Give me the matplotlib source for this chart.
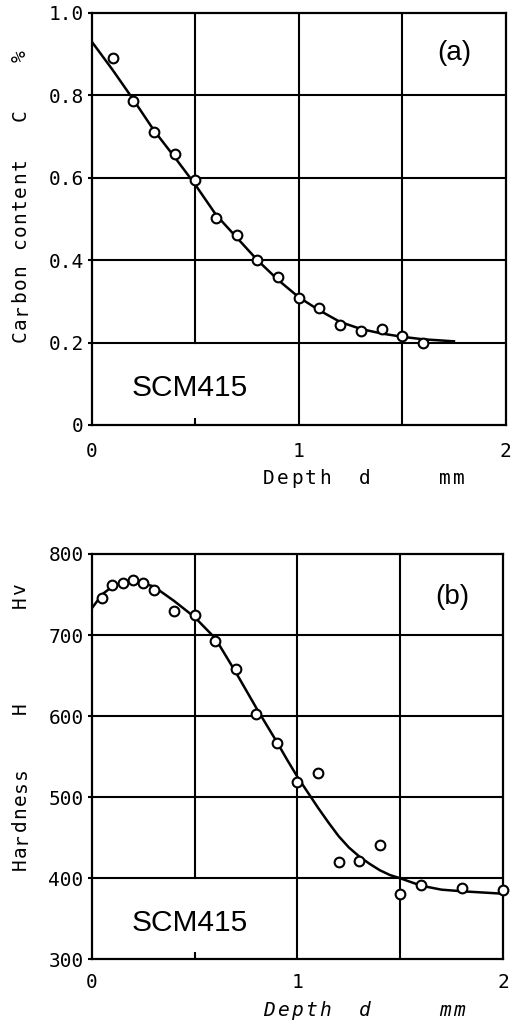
import matplotlib
matplotlib.use('Agg')
import matplotlib.pyplot as plt
from matplotlib import rcParams

rcParams['font.family'] = 'DejaVu Sans Mono'

# (a) carbon content vs depth
depth_c = [0.1, 0.2, 0.3, 0.4, 0.5, 0.6, 0.7, 0.8, 0.9, 1.0, 1.1, 1.2, 1.3, 1.4, 1.5, 1.6]
carbon = [0.89, 0.787, 0.711, 0.658, 0.595, 0.503, 0.461, 0.400, 0.359, 0.309, 0.285,
          0.242, 0.228, 0.233, 0.215, 0.198]
curve_c_x = [0.0, 0.1, 0.2, 0.3, 0.4, 0.5, 0.6, 0.7, 0.8, 0.9, 1.0, 1.1, 1.2, 1.3, 1.4,
             1.5, 1.6, 1.75]
curve_c_y = [0.93, 0.862, 0.79, 0.715, 0.65, 0.583, 0.51, 0.455, 0.40, 0.352, 0.31, 0.278,
             0.25, 0.233, 0.222, 0.214, 0.208, 0.203]

# (b) hardness vs depth
depth_h = [0.05, 0.1, 0.15, 0.2, 0.25, 0.3, 0.4, 0.5, 0.6, 0.7, 0.8, 0.9, 1.0, 1.1, 1.2,
           1.3, 1.4, 1.5, 1.6, 1.8, 2.0]
hardness = [746, 762, 764, 768, 764, 755, 730, 725, 692, 658, 603, 567, 519, 530, 420,
            421, 441, 381, 392, 388, 386]
curve_h_x = [0.0, 0.05, 0.1, 0.15, 0.2, 0.3, 0.4, 0.5, 0.6, 0.7, 0.8, 0.9, 0.95, 1.0,
             1.05, 1.1, 1.15, 1.2, 1.25, 1.3, 1.35, 1.4, 1.45, 1.5, 1.6, 1.7, 1.8, 2.0]
curve_h_y = [733, 750, 760, 765, 767, 760, 742, 722, 696, 654, 610, 568, 546, 525,
             506, 487, 469, 452, 438, 427, 418, 410, 404, 400, 391, 386, 384, 381]

fig = plt.figure(figsize=(5.16, 10.25), dpi=100)

ax1 = fig.add_axes([0.178, 0.5854, 0.802, 0.402])
ax2 = fig.add_axes([0.178, 0.064, 0.797, 0.3956])


def style_axes(ax, yticks, ylim, cut, xpad):
    # gridlines drawn by hand: the one at 0.5 stops above the label area
    for s in ax.spines.values():
        s.set_linewidth(1.6)
    ax.set_xlim(0, 2)
    ax.set_ylim(*ylim)
    ax.set_xticks([0, 1, 2])
    ax.set_xticks([0.5], minor=True)
    ax.set_yticks(yticks)
    for y in yticks[1:-1]:
        ax.axhline(y, color='black', linewidth=1.5, zorder=1)
    for x in [1.0, 1.5]:
        ax.axvline(x, color='black', linewidth=1.5, zorder=1)
    frac = (cut - ylim[0]) / (ylim[1] - ylim[0])
    ax.axvline(0.5, ymin=frac, ymax=1, color='black', linewidth=1.5, zorder=1)
    ax.tick_params(which='both', labelsize=14, width=1.5)
    ax.tick_params(axis='x', which='major', length=0, pad=xpad)
    ax.tick_params(axis='x', which='minor', direction='in', length=5)
    ax.tick_params(axis='y', direction='out', length=3, pad=3)


# top panel
ax1.plot(curve_c_x, curve_c_y, color='black', linewidth=1.8, zorder=2)
ax1.plot(depth_c, carbon, 'o', markersize=7, markerfacecolor='white',
         markeredgecolor='black', markeredgewidth=1.5, zorder=3)
style_axes(ax1, [0, 0.2, 0.4, 0.6, 0.8, 1.0], (0, 1.0), 0.2, 12)
ax1.set_yticklabels(['0', '0.2', '0.4', '0.6', '0.8', '1.0'])
ax1.text(0.877, 0.903, '(a)', transform=ax1.transAxes, fontsize=20,
         family='Liberation Sans', ha='center', va='center')
ax1.text(0.097, 0.09, 'SCM415', transform=ax1.transAxes, fontsize=21.5,
         family='Liberation Sans', ha='left', va='center')

# bottom panel
ax2.plot(curve_h_x, curve_h_y, color='black', linewidth=1.8, zorder=2)
ax2.plot(depth_h, hardness, 'o', markersize=7, markerfacecolor='white',
         markeredgecolor='black', markeredgewidth=1.5, clip_on=False, zorder=3)
style_axes(ax2, [300, 400, 500, 600, 700, 800], (300, 800), 400, 9.5)
ax2.text(0.876, 0.894, '(b)', transform=ax2.transAxes, fontsize=20,
         family='Liberation Sans', ha='center', va='center')
ax2.text(0.097, 0.09, 'SCM415', transform=ax2.transAxes, fontsize=21.5,
         family='Liberation Sans', ha='left', va='center')

# axis labels: wide letter spacing, placed in pixels from the top left
W, H = 516, 1025


def spaced(x, y, s, pitch, vertical=False, **kw):
    for i, ch in enumerate(s):
        if ch == ' ':
            continue
        if vertical:
            cx, cy, rot = x, y - i * pitch, 90
        else:
            cx, cy, rot = x + i * pitch, y, 0
        fig.text(cx / W, 1 - cy / H, ch, fontsize=14, rotation=rot,
                 ha='center', va='center', **kw)


spaced(20, 336, 'Carbon content', 13.2, vertical=True)
spaced(20, 115, 'C', 0, vertical=True)
spaced(20, 56, '%', 0, vertical=True)
spaced(269, 479, 'Depth', 14)
spaced(365, 479, 'd', 0)
spaced(445, 479, 'mm', 14)

spaced(20, 864, 'Hardness', 13, vertical=True)
spaced(20, 708, 'H', 0, vertical=True)
spaced(20, 602, 'Hv', 13, vertical=True)
spaced(269, 1011, 'Depth', 14, style='italic')
spaced(365, 1011, 'd', 0, style='italic')
spaced(445, 1011, 'mm', 14, style='italic')

fig.savefig('out.png', dpi=100)
